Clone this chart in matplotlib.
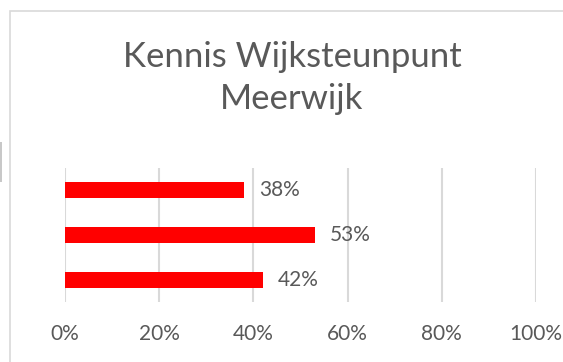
import matplotlib.pyplot as plt
import matplotlib.patches as patches
from matplotlib.ticker import PercentFormatter

# ---[DATA]---
title = 'Kennis Wijksteunpunt\nMeerwijk'
values = [0.38, 0.53, 0.42]          # top to bottom
labels = ['38%', '53%', '42%']
xticks = [0, 0.2, 0.4, 0.6, 0.8, 1.0]
# ------------

W, H, DPI = 563, 362, 100
text_color = '#595959'
grid_color = '#d9d9d9'
bar_color = '#ff0000'
plt.rcParams['font.family'] = ['Lato', 'DejaVu Sans']

fig = plt.figure(figsize=(W / DPI, H / DPI), dpi=DPI)

# chart frame, runs off the right and bottom edges
fig.add_artist(patches.Rectangle((10 / W, -0.1), 1.2, (H - 11) / H + 0.1,
                                 transform=fig.transFigure, fill=False,
                                 edgecolor=grid_color, linewidth=1.2))
fig.add_artist(patches.Rectangle((0, (H - 182) / H), 2 / W, 40 / H,
                                 transform=fig.transFigure, color='#c8c8c8',
                                 linewidth=0))

fig.text(292 / W, (H - 78) / H, title, ha='center', va='center',
         fontsize=25, color=text_color, linespacing=1.42)

ax = fig.add_axes([65 / W, (H - 302) / H, (536 - 65) / W, (302 - 168) / H])
pos = range(len(values))
ax.barh(pos, values, height=0.36, color=bar_color, zorder=3)
for p, v, lab in zip(pos, values, labels):
    ax.annotate(lab, (v, p), xytext=(11, 0), textcoords='offset points',
                ha='left', va='center', fontsize=15, color=text_color)

ax.set_xlim(0, 1)
ax.set_ylim(len(values) - 0.5, -0.5)
ax.set_xticks(xticks)
ax.xaxis.set_major_formatter(PercentFormatter(1.0, decimals=0))
ax.set_yticks([])
ax.tick_params(axis='x', length=0, pad=16, labelsize=15, labelcolor=text_color)
ax.grid(axis='x', color=grid_color, linewidth=1.5, zorder=0)
for s in ax.spines.values():
    s.set_visible(False)

fig.savefig('out.png', dpi=DPI)
